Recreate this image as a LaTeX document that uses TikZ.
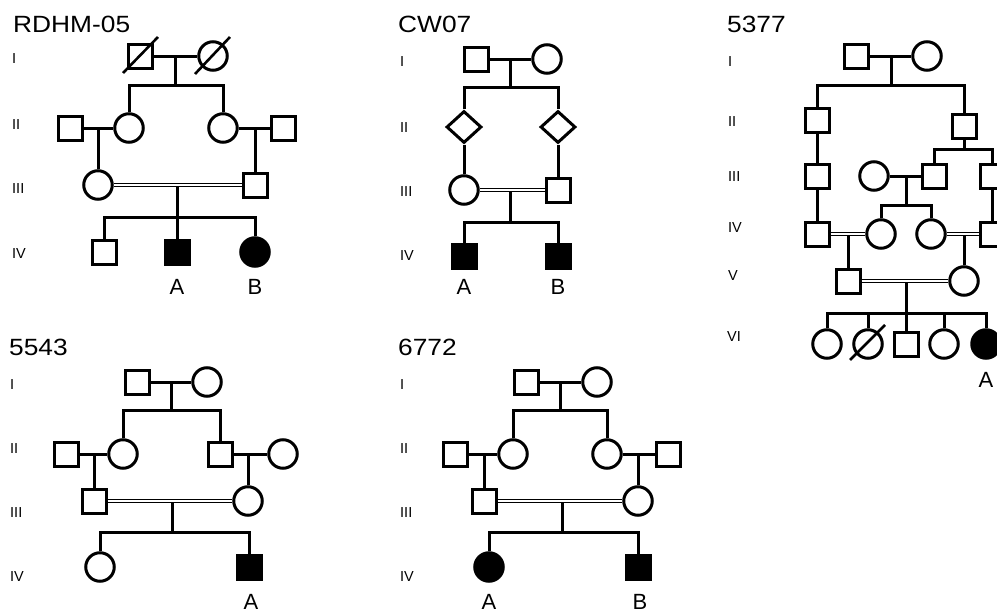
\documentclass[tikz,border=0pt]{standalone}
\usepackage{fontspec}
\setmainfont{Liberation Sans}
\newfontfamily\titlefont[FakeStretch=1.12]{Liberation Sans}
\usetikzlibrary{shapes.geometric}

\tikzset{
  ind/.style={draw, line width=3pt, inner sep=0pt, fill=white},
  male/.style={ind, rectangle, minimum size=24pt},
  female/.style={ind, circle, minimum size=28.5pt},
  unk/.style={ind, diamond, minimum width=35pt, minimum height=32pt},
  aff/.style={fill=black},
  ln/.style={line width=3pt},
  cons/.style={double=white, double distance=1.8pt, line width=1.4pt},
  gen/.style={anchor=west, inner sep=0pt, font=\fontsize{14.5}{16}\selectfont},
  ttl/.style={anchor=base west, inner sep=0pt, font=\titlefont\fontsize{23.5}{27}\selectfont},
  lbl/.style={inner sep=0pt, font=\fontsize{22}{25}\selectfont},
  slash/.style={line width=2.6pt}
}

\begin{document}
\begin{tikzpicture}[x=1pt, y=-1pt]
\fill[white] (0,0) rectangle (997,613);
\useasboundingbox (0,0) rectangle (997,613);
\clip (0,0) rectangle (997,613);

% ---------------- RDHM-05 ----------------
\node[ttl] (t1) at (13,32) {RDHM-05};
\node[gen] (r-g1) at (12,59) {I};
\node[gen] (r-g2) at (12,125) {II};
\node[gen] (r-g3) at (12,189) {III};
\node[gen] (r-g4) at (12,254) {IV};

\node[male]   (r1a) at (140,56) {};
\node[female] (r1b) at (213,56) {};
\coordinate (rm1) at (175,56);
\coordinate (rs1) at (175,85);
\node[male]   (r2a) at (70,128) {};
\node[female] (r2b) at (129,128) {};
\node[female] (r2c) at (223,128) {};
\node[male]   (r2d) at (283,128) {};
\coordinate (rm2) at (98,128);
\coordinate (rm3) at (255,128);
\node[female] (r3a) at (98,185) {};
\node[male]   (r3b) at (255,185) {};
\coordinate (rm4) at (177,185);
\coordinate (rs4) at (177,217);
\node[male]        (r4a) at (104,252) {};
\node[male,aff]    (r4b) at (177,252) {};
\node[female,aff]  (r4c) at (255,252) {};
\node[lbl] (rA) at (177,287) {A};
\node[lbl] (rB) at (255,287) {B};

\draw[ln] (r1a) -- (r1b);
\draw[ln] (rm1) -- (rs1);
\draw[ln] (r2b) |- (rs1) -| (r2c);
\draw[ln] (r2a) -- (r2b);
\draw[ln] (rm2) -- (r3a);
\draw[ln] (r2c) -- (r2d);
\draw[ln] (rm3) -- (r3b);
\draw[ln] (rm4) -- (r4b);
\draw[ln] (r4a) |- (rs4) -| (r4c);
\draw[cons] (r3a) -- (r3b);
\draw[slash] (r1a.center) ++(-17,17) -- ++(35,-36);
\draw[slash] (r1b.center) ++(-18,18) -- ++(35,-37);

% ---------------- CW07 ----------------
\node[ttl] (t2) at (398,32) {CW07};
\node[gen] (c-g1) at (400,62) {I};
\node[gen] (c-g2) at (400,128) {II};
\node[gen] (c-g3) at (400,192) {III};
\node[gen] (c-g4) at (400,256) {IV};

\node[male]   (c1a) at (476,59) {};
\node[female] (c1b) at (547,59) {};
\coordinate (cm1) at (510,59);
\coordinate (cs1) at (510,87);
\node[unk] (c2a) at (464,127) {};
\node[unk] (c2b) at (558,127) {};
\node[female] (c3a) at (464,190) {};
\node[male]   (c3b) at (558,190) {};
\coordinate (cm2) at (510,190);
\coordinate (cs2) at (510,222);
\node[male,aff] (c4a) at (464,256) {};
\node[male,aff] (c4b) at (558,256) {};
\node[lbl] (cA) at (464,287) {A};
\node[lbl] (cB) at (558,287) {B};

\draw[ln] (c1a) -- (c1b);
\draw[ln] (cm1) -- (cs1);
\draw[ln] (c2a) |- (cs1) -| (c2b);
\draw[ln] (c2a) -- (c3a);
\draw[ln] (c2b) -- (c3b);
\draw[ln] (cm2) -- (cs2);
\draw[ln] (c4a) |- (cs2) -| (c4b);
\draw[cons] (c3a) -- (c3b);

% ---------------- 5377 ----------------
\node[ttl] (t3) at (727,32) {5377};
\node[gen] (f-g1) at (728,62) {I};
\node[gen] (f-g2) at (728,122) {II};
\node[gen] (f-g3) at (728,177) {III};
\node[gen] (f-g4) at (728,228) {IV};
\node[gen] (f-g5) at (728,276) {V};
\node[gen] (f-g6) at (727,337) {VI};

\node[male]   (f1a) at (856,56) {};
\node[female] (f1b) at (927,56) {};
\coordinate (fm1) at (891,56);
\coordinate (fs1) at (891,85);
\node[male] (f2a) at (817,120) {};
\node[male] (f2b) at (964,126) {};
\coordinate (fs2) at (964,149);
\node[male]   (f3a) at (817,176) {};
\node[female] (f3d) at (874,176) {};
\node[male]   (f3b) at (934,176) {};
\node[male]   (f3c) at (992,176) {};
\coordinate (fm3) at (906,176);
\coordinate (fs3) at (906,205);
\node[male]   (f4a) at (817,234) {};
\node[female] (f4b) at (881,234) {};
\node[female] (f4c) at (931,234) {};
\node[male]   (f4d) at (992,234) {};
\coordinate (fm4) at (848,234);
\coordinate (fm5) at (964,234);
\node[male]   (f5a) at (848,281) {};
\node[female] (f5b) at (964,281) {};
\coordinate (fm6) at (906,281);
\coordinate (fs6) at (906,313);
\node[female]     (f6a) at (827,344) {};
\node[female]     (f6b) at (868,344) {};
\node[male]       (f6c) at (906,344) {};
\node[female]     (f6d) at (944,344) {};
\node[female,aff] (f6e) at (986,344) {};
\node[lbl] (fA) at (986,380) {A};

\draw[ln] (f1a) -- (f1b);
\draw[ln] (fm1) -- (fs1);
\draw[ln] (f2a) |- (fs1) -| (f2b);
\draw[ln] (f2a) -- (f3a);
\draw[ln] (f3a) -- (f4a);
\draw[ln] (f2b) -- (fs2);
\draw[ln] (f3b) |- (fs2) -| (f3c);
\draw[ln] (f3d) -- (f3b);
\draw[ln] (fm3) -- (fs3);
\draw[ln] (f4b) |- (fs3) -| (f4c);
\draw[ln] (f3c) -- (f4d);
\draw[ln] (fm4) -- (f5a);
\draw[ln] (fm5) -- (f5b);
\draw[ln] (fm6) -- (f6c);
\draw[ln] (f6a) |- (fs6) -| (f6e);
\draw[ln] (f6b |- fs6) -- (f6b);
\draw[ln] (f6d |- fs6) -- (f6d);
\draw[cons] (f4a) -- (f4b);
\draw[cons] (f4c) -- (f4d);
\draw[cons] (f5a) -- (f5b);
\draw[slash] (f6b.center) ++(-18,16) -- ++(35,-35);

% ---------------- 5543 ----------------
\node[ttl] (t4) at (9,355) {5543};
\node[gen] (g-g1) at (10,385) {I};
\node[gen] (g-g2) at (10,449) {II};
\node[gen] (g-g3) at (10,513) {III};
\node[gen] (g-g4) at (10,577) {IV};

\node[male]   (g1a) at (137,382) {};
\node[female] (g1b) at (207,382) {};
\coordinate (gm1) at (171,382);
\coordinate (gs1) at (171,410);
\node[male]   (g2a) at (66,454) {};
\node[female] (g2b) at (123,454) {};
\node[male]   (g2c) at (220,454) {};
\node[female] (g2d) at (283,454) {};
\coordinate (gm2) at (94,454);
\coordinate (gm3) at (248,454);
\node[male]   (g3a) at (94,501) {};
\node[female] (g3b) at (248,501) {};
\coordinate (gm4) at (172,501);
\coordinate (gs4) at (172,532);
\node[female]   (g4a) at (100,567) {};
\node[male,aff] (g4b) at (249,567) {};
\node[lbl] (gA) at (251,602) {A};

\draw[ln] (g1a) -- (g1b);
\draw[ln] (gm1) -- (gs1);
\draw[ln] (g2b) |- (gs1) -| (g2c);
\draw[ln] (g2a) -- (g2b);
\draw[ln] (gm2) -- (g3a);
\draw[ln] (g2c) -- (g2d);
\draw[ln] (gm3) -- (g3b);
\draw[ln] (gm4) -- (gs4);
\draw[ln] (g4a) |- (gs4) -| (g4b);
\draw[cons] (g3a) -- (g3b);

% ---------------- 6772 ----------------
\node[ttl] (t5) at (398,355) {6772};
\node[gen] (h-g1) at (400,385) {I};
\node[gen] (h-g2) at (400,449) {II};
\node[gen] (h-g3) at (400,513) {III};
\node[gen] (h-g4) at (400,577) {IV};

\node[male]   (h1a) at (526,382) {};
\node[female] (h1b) at (597,382) {};
\coordinate (hm1) at (560,382);
\coordinate (hs1) at (560,410);
\node[male]   (h2a) at (455,454) {};
\node[female] (h2b) at (513,454) {};
\node[female] (h2c) at (607,454) {};
\node[male]   (h2d) at (668,454) {};
\coordinate (hm2) at (484,454);
\coordinate (hm3) at (638,454);
\node[male]   (h3a) at (484,501) {};
\node[female] (h3b) at (638,501) {};
\coordinate (hm4) at (562,501);
\coordinate (hs4) at (562,532);
\node[female,aff] (h4a) at (489,567) {};
\node[male,aff]   (h4b) at (638,567) {};
\node[lbl] (hA) at (489,602) {A};
\node[lbl] (hB) at (640,602) {B};

\draw[ln] (h1a) -- (h1b);
\draw[ln] (hm1) -- (hs1);
\draw[ln] (h2b) |- (hs1) -| (h2c);
\draw[ln] (h2a) -- (h2b);
\draw[ln] (hm2) -- (h3a);
\draw[ln] (h2c) -- (h2d);
\draw[ln] (hm3) -- (h3b);
\draw[ln] (hm4) -- (hs4);
\draw[ln] (h4a) |- (hs4) -| (h4b);
\draw[cons] (h3a) -- (h3b);
\end{tikzpicture}
\end{document}
